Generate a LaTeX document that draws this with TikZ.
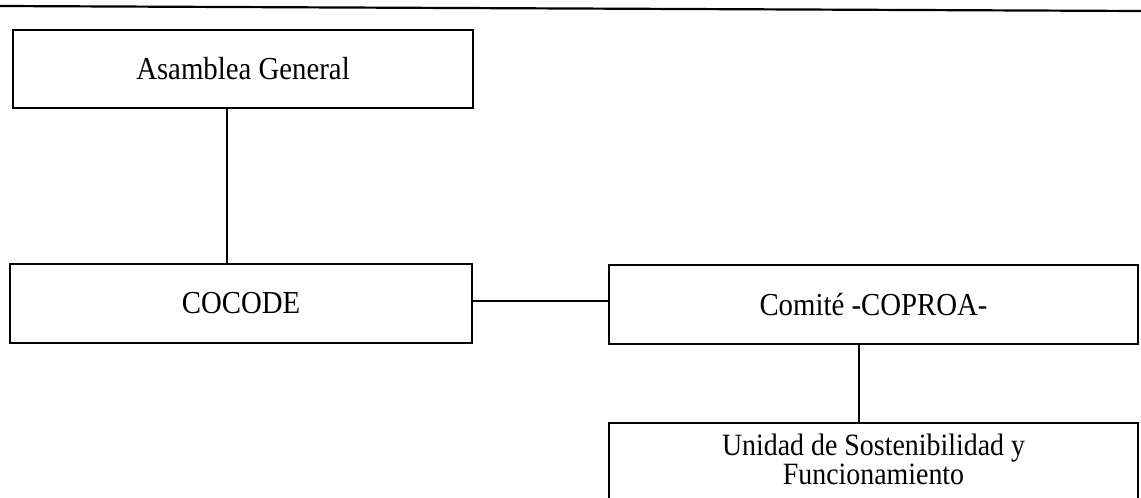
\documentclass[tikz,border=0pt]{standalone}
\usepackage{fontspec}
\setmainfont{Liberation Serif}
\newfontfamily\diagfont[FakeStretch=0.9]{Liberation Serif}
\begin{document}
\begin{tikzpicture}[x=1pt,y=-1pt,
  box/.style={draw=black, line width=2pt, rectangle, inner sep=0pt, text=black,
              font=\diagfont\fontsize{32}{29}\selectfont},
  conn/.style={draw=black, line width=1.5pt},
  rulestyle/.style={draw=black, line width=2.2pt}]
\useasboundingbox (0,0) rectangle (1141,498);
\clip (-5,-5) rectangle (1146,498);
% top rule
\coordinate (ruleL) at (0,6);
\coordinate (ruleR) at (1141,11);
\draw[rulestyle] (ruleL) -- (ruleR);
% boxes
\node[box, minimum width=460pt, minimum height=78pt] (asam) at (243,69) {Asamblea General};
\node[box, minimum width=462pt, minimum height=79pt] (cocode) at (241,303.5) {COCODE};
\node[box, minimum width=529pt, minimum height=79pt] (comite) at (873.5,304.5) {Comité -COPROA-};
\node[box, minimum width=529pt, anchor=north, align=center, inner ysep=11pt,
      font=\diagfont\fontsize{31}{29}\selectfont] (unidad) at (873.5,422)
      {Unidad de Sostenibilidad y\\Funcionamiento\rule[-60pt]{0pt}{1pt}};
% connector guides
\coordinate (v1) at (227,0);
\coordinate (h1) at (0,301);
\coordinate (v2) at (859,0);
\draw[conn] (asam.south -| v1) -- (cocode.north -| v1);
\draw[conn] (cocode.east |- h1) -- (comite.west |- h1);
\draw[conn] (comite.south -| v2) -- (unidad.north -| v2);
\end{tikzpicture}
\end{document}
